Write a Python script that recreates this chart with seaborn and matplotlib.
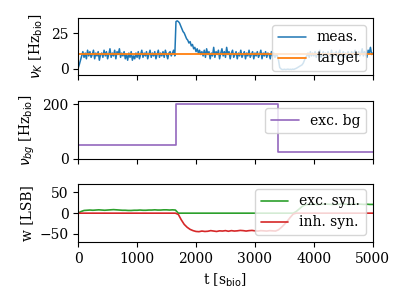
import numpy as np
import pandas as pd
import matplotlib
matplotlib.use("Agg")
import matplotlib.pyplot as plt
import seaborn as sns

# measured rate, sampled every 20 s
t_rate = np.arange(0, 5001, 20)
rate_meas = [
    0.5, 3, 6, 9, 12, 8, 11, 7, 13, 9,
    12, 8, 10, 13, 7, 11, 9, 12, 6, 10,
    11, 8, 13, 9, 12, 7, 10, 14, 8, 11,
    9, 13, 7, 12, 10, 14, 8, 11, 9, 12,
    7, 10, 6, 11, 8, 12, 6, 9, 7, 11,
    8, 12, 7, 10, 13, 8, 11, 9, 12, 7,
    10, 13, 8, 11, 9, 12, 7, 10, 13, 8,
    11, 9, 12, 8, 13, 10, 7, 11, 12, 9,
    11, 13, 9, 33, 33.5, 33, 32, 30, 28, 26,
    25, 23, 21, 20, 18, 19, 16, 17, 14, 15,
    12, 14, 11, 13, 10, 12, 9, 13, 8, 14,
    10, 12, 7, 11, 9, 15, 8, 12, 10, 13,
    7, 11, 14, 9, 12, 8, 15, 10, 12, 7,
    11, 13, 8, 10, 12, 7, 11, 9, 13, 8,
    10, 12, 7, 11, 9, 13, 8, 10, 12, 7,
    11, 9, 12, 8, 10, 13, 7, 11, 9, 12,
    8, 11, 10, 7, 12, 9, 11, 8, 10, 9,
    6, 1, 0, -0.5, -0.5, -0.3, -0.5, -0.4, -0.2, -0.5,
    -0.3, -0.5, -0.2, -0.4, 0, 0.3, 0.8, 1.3, 1.8, 2.3,
    2.8, 4, 6, 8, 9, 11, 8, 12, 9, 11,
    9, 12, 8, 11, 10, 13, 8, 10, 12, 9,
    11, 8, 12, 10, 9, 13, 7, 11, 10, 12,
    8, 11, 13, 9, 10, 12, 8, 11, 9, 12,
    10, 8, 12, 9, 11, 13, 8, 10, 12, 9,
    11, 14, 9, 12, 10, 8, 13, 11, 15, 10,
    11,
]
t_target = [0, 5000]
rate_target = [10, 10]

# background rate steps
t_bg = [0, 1665, 3385, 5000]
rate_bg = [50, 200, 25, 25]

# weights, sampled every 50 s
t_w = np.arange(0, 5001, 50)
w_exc = ([0, 4, 6.5, 7, 7.5, 7, 7.5, 8, 7.5, 7,
          7.5, 8, 8.5, 8, 7.5, 7, 7, 6.5, 6.5, 7,
          7, 7.5, 7, 7, 7.5, 7.5, 8, 7.5, 7.5, 8,
          8, 7.5, 8, 7.5]
         + [0] * 40
         + [4, 10, 16, 20, 21]
         + [21, 21.5, 21, 21, 21.5, 22, 21.5, 21, 21, 21.5, 21.5,
            22, 21.5, 21, 21.5, 21.5, 22, 21.5, 21, 21.5, 21, 21])
w_inh = ([0] * 34
         + [-3, -16, -27, -34, -39, -42, -44]
         + [-44.5, -43, -44, -43.5, -42, -43, -44, -42.5, -43, -42,
            -43.5, -42, -43, -42.5, -41.5, -42, -43, -42, -41.5, -42.5,
            -43, -42, -42.5, -43, -42, -42.5]
         + [-43, -40, -34, -27, -19, -10, -2]
         + [0] * 27)

sns.set_style("ticks", {"axes.edgecolor": "black", "xtick.color": "black",
                        "ytick.color": "black", "text.color": "black",
                        "axes.labelcolor": "black"})
plt.rcParams["font.family"] = "serif"
plt.rcParams["font.size"] = 10

fig, axes = plt.subplots(3, 1, sharex=True, figsize=(4.07, 3.05), dpi=100)
fig.subplots_adjust(left=0.192, right=0.916, top=0.941, bottom=0.207, hspace=0.45)

ax = axes[0]
sns.lineplot(x=t_rate, y=rate_meas, ax=ax, color="C0", lw=1.1, label="meas.")
sns.lineplot(x=t_target, y=rate_target, ax=ax, color="C1", lw=1.3, label="target")
ax.set_ylim(-4.6, 35.5)
ax.set_yticks([0, 25])
ax.set_ylabel(r"$\nu_K$ [Hz$_\mathrm{bio}$]")
ax.legend(loc="upper right")

ax = axes[1]
sns.lineplot(x=t_bg, y=rate_bg, ax=ax, color="C4", lw=1.2,
             drawstyle="steps-post", estimator=None, label="exc. bg")
ax.set_ylim(0, 212)
ax.set_yticks([0, 200])
ax.set_ylabel(r"$\nu_{bg}$ [Hz$_\mathrm{bio}$]")
ax.legend(loc="upper right")

ax = axes[2]
sns.lineplot(x=t_w, y=w_exc, ax=ax, color="C2", lw=1.2, label="exc. syn.")
sns.lineplot(x=t_w, y=w_inh, ax=ax, color="C3", lw=1.2, label="inh. syn.")
ax.set_ylim(-69, 69)
ax.set_yticks([-50, 0, 50])
ax.set_ylabel("w [LSB]")
ax.legend(loc="lower right")

ax.set_xlim(0, 5000)
ax.set_xticks([0, 1000, 2000, 3000, 4000, 5000])
ax.set_xlabel(r"t [s$_\mathrm{bio}$]")

fig.savefig("out.png", dpi=100)
